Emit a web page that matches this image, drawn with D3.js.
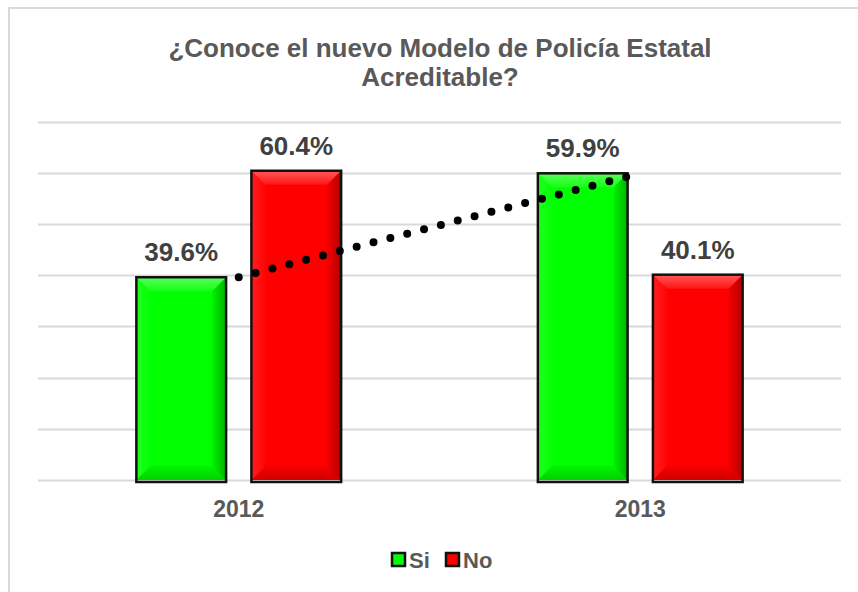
<!DOCTYPE html>
<html>
<head>
<meta charset="utf-8">
<script src="https://cdn.jsdelivr.net/npm/d3@7/dist/d3.min.js"></script>
<style>
  html, body { margin: 0; padding: 0; background: #fff; }
  svg { display: block; font-family: "Liberation Sans", Arial, sans-serif; }
</style>
</head>
<body>
<svg id="chart" width="858" height="592"></svg>
<script>
// Survey answers by year (percent)
const categories = ["2012", "2013"];
const series = ["Si", "No"];
const siValues = [39.6, 59.9];
const noValues = [60.4, 40.1];
const yTicks = [0, 10, 20, 30, 40, 50, 60, 70];
const titleLines = ["¿Conoce el nuevo Modelo de Policía Estatal", "Acreditable?"];

const colors = { Si: "#00FF00", No: "#FF0000" };
const values = { Si: siValues, No: noValues };

const W = 858, H = 592;
const plot = { left: 38, right: 841, top: 121.6, bottom: 480 };

const svg = d3.select("#chart");
const defs = svg.append("defs");

// Bevel shading gradients
function grad(id, x1, y1, x2, y2, stops) {
  const g = defs.append("linearGradient").attr("id", id)
    .attr("x1", x1).attr("y1", y1).attr("x2", x2).attr("y2", y2);
  stops.forEach(s => g.append("stop").attr("offset", s[0])
    .attr("stop-color", s[1]).attr("stop-opacity", s[2]));
}
grad("bevTop", 0, 0, 0, 1, [[0, "#fff", 0.35], [1, "#fff", 0.08]]);
grad("bevRight", 0, 0, 1, 0, [[0, "#000", 0.05], [1, "#000", 0.3]]);
grad("bevBottom", 0, 1, 0, 0, [[0, "#000", 0.18], [1, "#000", 0.04]]);
grad("bevLeft", 0, 0, 1, 0, [[0, "#fff", 0.12], [1, "#fff", 0.02]]);

// Chart area frame
svg.append("rect").attr("x", 9).attr("y", 8)
  .attr("width", W + 20).attr("height", H + 20)
  .attr("fill", "none").attr("stroke", "#d9d9d9").attr("stroke-width", 2);

// Title
svg.append("text")
  .attr("text-anchor", "middle")
  .attr("font-size", 26).attr("font-weight", "bold").attr("fill", "#595959")
  .selectAll("tspan").data(titleLines).join("tspan")
  .attr("x", 440).attr("y", (d, i) => 57 + i * 29)
  .text(d => d);

const y = d3.scaleLinear().domain([0, 70]).range([plot.bottom, plot.top]);
const x0 = d3.scaleBand().domain(categories).range([plot.left, plot.right]).padding(0);
const x1 = d3.scaleBand().domain(series).range([0, x0.bandwidth()])
  .paddingInner(0.22).paddingOuter(0.855);

// Gridlines
svg.append("g").selectAll("line").data(yTicks).join("line")
  .attr("x1", plot.left).attr("x2", plot.right)
  .attr("y1", d => Math.round(y(d)) + 0.5).attr("y2", d => Math.round(y(d)) + 0.5)
  .attr("stroke", "#d9d9d9").attr("stroke-width", 2);

// Bars
const barData = [];
categories.forEach((c, i) => series.forEach(s => barData.push({ c, s, v: values[s][i] })));

const bars = svg.append("g").selectAll("g").data(barData).join("g")
  .attr("transform", d => `translate(${x0(d.c) + x1(d.s)},0)`);

bars.each(function(d) {
  const g = d3.select(this);
  const w = x1.bandwidth();
  const top = y(d.v), bot = y(0);
  const h = bot - top;
  const b = Math.min(14, h / 2);
  g.append("rect").attr("x", 0).attr("y", top).attr("width", w).attr("height", h)
    .attr("fill", colors[d.s]);
  // bevel facets
  g.append("polygon").attr("points", `0,${top} ${w},${top} ${w - b},${top + b} ${b},${top + b}`)
    .attr("fill", "url(#bevTop)");
  g.append("polygon").attr("points", `${w},${top} ${w},${bot} ${w - b},${bot - b} ${w - b},${top + b}`)
    .attr("fill", "url(#bevRight)");
  g.append("polygon").attr("points", `0,${bot} ${w},${bot} ${w - b},${bot - b} ${b},${bot - b}`)
    .attr("fill", "url(#bevBottom)");
  g.append("polygon").attr("points", `0,${top} ${b},${top + b} ${b},${bot - b} 0,${bot}`)
    .attr("fill", "url(#bevLeft)");
  g.append("rect").attr("x", 0).attr("y", top).attr("width", w).attr("height", h + 2)
    .attr("fill", "none").attr("stroke", "#111").attr("stroke-width", 2.5);
});

// Data labels
svg.append("g").selectAll("text").data(barData).join("text")
  .attr("x", d => x0(d.c) + x1(d.s) + x1.bandwidth() / 2)
  .attr("y", d => y(d.v) - 16)
  .attr("text-anchor", "middle")
  .attr("font-size", 26).attr("font-weight", "bold").attr("fill", "#404040")
  .text(d => d.v.toFixed(1) + "%");

// Linear trendline for "Si" across category centers
const xs = categories.map((c, i) => i + 1);
const mx = d3.mean(xs), my = d3.mean(siValues);
const slope = d3.sum(xs, (xv, i) => (xv - mx) * (siValues[i] - my)) / d3.sum(xs, xv => (xv - mx) ** 2);
const icpt = my - slope * mx;
const xc = i => x0(categories[i]) + x0.bandwidth() / 2;
const trend = xs.map((xv, i) => [xc(i), y(icpt + slope * xv)]);
svg.append("path").attr("d", d3.line()(trend))
  .attr("fill", "none").attr("stroke", "#000").attr("stroke-width", 8)
  .attr("stroke-linecap", "round").attr("stroke-dasharray", "0 17.4");

// Category axis labels
svg.append("g").selectAll("text").data(categories).join("text")
  .attr("x", d => x0(d) + x0.bandwidth() / 2).attr("y", 517)
  .attr("text-anchor", "middle")
  .attr("font-size", 23).attr("font-weight", "bold").attr("fill", "#595959")
  .text(d => d);

// Legend
const legend = svg.append("g").attr("transform", "translate(392,553)");
const legendX = [0, 54];
series.forEach((s, i) => {
  const g = legend.append("g").attr("transform", `translate(${legendX[i]},0)`);
  g.append("rect").attr("x", 0).attr("y", 0).attr("width", 13).attr("height", 13)
    .attr("fill", colors[s]).attr("stroke", "#111").attr("stroke-width", 2.5);
  g.append("text").attr("x", 17).attr("y", 15)
    .attr("font-size", 22).attr("font-weight", "bold").attr("fill", "#595959")
    .text(s);
});
</script>
</body>
</html>
